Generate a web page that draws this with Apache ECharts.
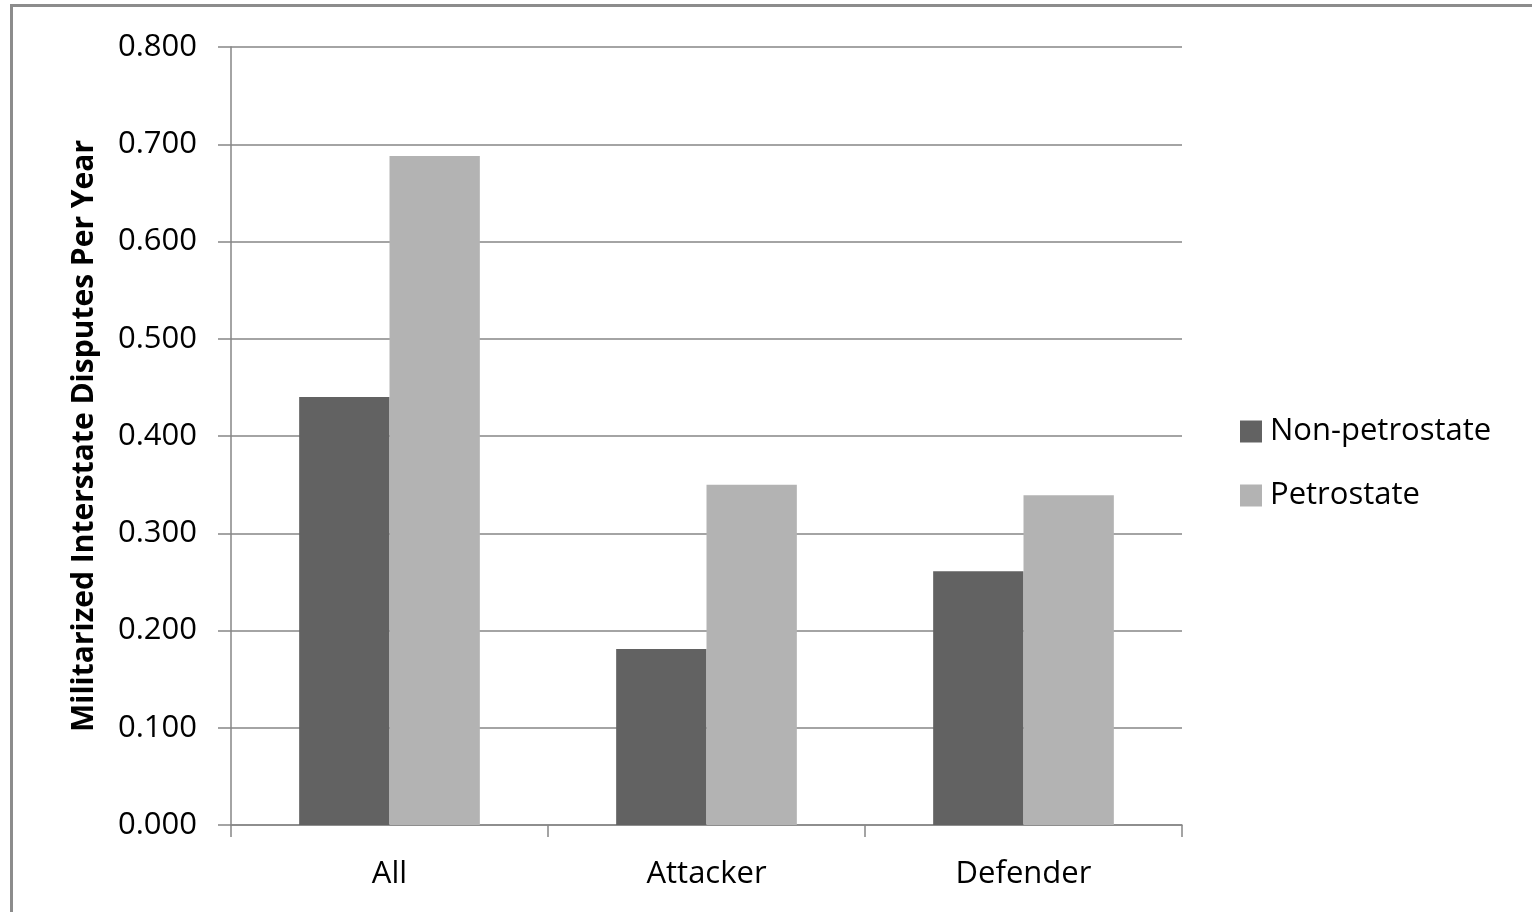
<!DOCTYPE html>
<html>
<head>
<meta charset="utf-8">
<style>
  html, body { margin: 0; padding: 0; background: #ffffff; }
  #chart { width: 1532px; height: 912px; }
</style>
<script src="https://cdn.jsdelivr.net/npm/echarts@6/dist/echarts.min.js"></script>
</head>
<body>
<div id="chart"></div>
<script>
// Dispute rates by role, split by petrostate status
const categories = ['All', 'Attacker', 'Defender'];
const seriesNames = ['Non-petrostate', 'Petrostate'];
const nonPetrostate = [0.440, 0.181, 0.261];
const petrostate = [0.688, 0.350, 0.339];

const FONT = '"Open Sans", "Liberation Sans", sans-serif';
const AXIS_GREY = '#868686';

const chart = echarts.init(document.getElementById('chart'), null, { renderer: 'canvas' });

chart.setOption({
  animation: false,
  backgroundColor: '#ffffff',
  graphic: [{
    type: 'rect',
    shape: { x: 11.5, y: 5.5, width: 1540, height: 920 },
    style: { fill: 'none', stroke: '#8c8c8c', lineWidth: 3 },
    silent: true
  }],
  grid: { left: 231, right: 350, top: 47, bottom: 87, containLabel: false },
  legend: {
    orient: 'vertical',
    left: 1235,
    top: 411,
    itemWidth: 22,
    itemHeight: 22,
    itemGap: 33,
    icon: 'rect',
    textStyle: { fontFamily: FONT, fontSize: 31, color: '#000000', padding: [0, 0, 0, 3] },
    data: seriesNames
  },
  xAxis: {
    type: 'category',
    data: categories,
    axisLine: { lineStyle: { color: AXIS_GREY, width: 1.5 } },
    axisTick: { show: true, length: 12, alignWithLabel: false, lineStyle: { color: AXIS_GREY, width: 1.5 } },
    axisLabel: { fontFamily: FONT, fontSize: 31, color: '#000000', margin: 34 },
    splitLine: { show: false }
  },
  yAxis: {
    type: 'value',
    min: 0,
    max: 0.8,
    interval: 0.1,
    name: 'Militarized Interstate Disputes Per Year',
    nameLocation: 'middle',
    nameGap: 132,
    nameTextStyle: { fontFamily: FONT, fontSize: 30, fontWeight: 'bold', color: '#000000' },
    axisLine: { show: true, lineStyle: { color: AXIS_GREY, width: 1.5 } },
    axisTick: { show: true, length: 13, lineStyle: { color: AXIS_GREY, width: 1.5 } },
    axisLabel: {
      fontFamily: FONT, fontSize: 31, color: '#000000', margin: 34,
      formatter: v => v.toFixed(3)
    },
    splitLine: { show: true, lineStyle: { color: AXIS_GREY, width: 1.5 } }
  },
  series: [
    {
      name: seriesNames[0],
      type: 'bar',
      data: nonPetrostate,
      barGap: '0%',
      barCategoryGap: '43%',
      itemStyle: { color: '#626262' }
    },
    {
      name: seriesNames[1],
      type: 'bar',
      data: petrostate,
      barGap: '0%',
      barCategoryGap: '43%',
      itemStyle: { color: '#b3b3b3' }
    }
  ]
});
</script>
</body>
</html>
